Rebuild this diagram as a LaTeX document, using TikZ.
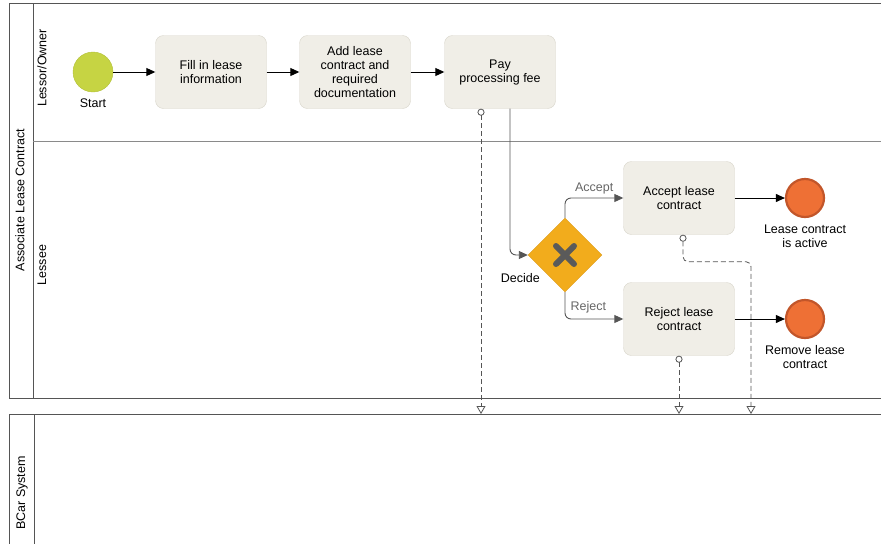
\documentclass[tikz,border=0pt]{standalone}
\usepackage{fontspec}
\setmainfont{Liberation Sans}
\usetikzlibrary{arrows.meta,shapes.geometric,positioning}
\definecolor{taskfill}{HTML}{F0EEE7}
\definecolor{taskline}{HTML}{D8D5CA}
\definecolor{startfill}{HTML}{C6D443}
\definecolor{startline}{HTML}{B2C03A}
\definecolor{endfill}{HTML}{EE7035}
\definecolor{endline}{HTML}{C2562A}
\definecolor{gatefill}{HTML}{F2AC1C}
\definecolor{gatemark}{HTML}{5A5A5A}
\definecolor{poolline}{HTML}{555555}
\definecolor{laneline}{HTML}{8A8A8A}
\definecolor{flowgray}{HTML}{555555}
\definecolor{labgray}{HTML}{666666}
\newcommand\bpmnfont{\fontsize{12.5}{14}\selectfont}

\begin{document}
\begin{tikzpicture}[
  x=1pt, y=-1pt,
  task/.style={rectangle, rounded corners=8pt, draw=taskline, fill=taskfill, minimum width=111pt, minimum height=73pt, align=center, font=\bpmnfont},
  startev/.style={circle, draw=startline, fill=startfill, minimum size=40pt, inner sep=0pt},
  endev/.style={circle, draw=endline, line width=2.2pt, fill=endfill, minimum size=38pt, inner sep=0pt},
  gate/.style={diamond, draw=gatefill!90!black, fill=gatefill, minimum width=74pt, minimum height=74pt, inner sep=0pt},
  evlabel/.style={font=\bpmnfont, align=center, yshift=-3pt},
  flow/.style={-{Triangle[length=9pt,width=8pt]}, line width=0.9pt},
  gflow/.style={flow, draw=flowgray, rounded corners=6pt},
  msg/.style={dash pattern=on 5pt off 3pt, draw=flowgray, line width=0.8pt, {Circle[open,length=7pt,width=7pt]}-{Triangle[open,length=8pt,width=9pt]}, rounded corners=5pt},
  guard/.style={font=\bpmnfont, text=labgray},
  pool/.style={draw=poolline, line width=0.9pt},
  lane/.style={draw=laneline, line width=0.6pt}
]
\useasboundingbox (0,0) rectangle (881,544);

% --- Pool: Associate Lease Contract ---
\draw[pool] (881,3) -- (9,3) -- (9,398) -- (881,398);
\draw[pool] (33,3) -- (33,398);
\draw[lane] (33,141) -- (881,141);
\node[rotate=90, font=\bpmnfont] (poolA) at (20,200) {Associate Lease Contract};
\node[rotate=90, font=\bpmnfont] (laneO) at (42,68) {Lessor/Owner};
\node[rotate=90, font=\bpmnfont] (laneL) at (42,265) {Lessee};

% --- Pool: BCar System ---
\draw[pool] (881,414) -- (9,414) -- (9,544);
\draw[pool] (34,414) -- (34,544);
\node[rotate=90, font=\bpmnfont] (poolB) at (22,493) {BCar System};
\coordinate (bcar) at (34,414);
\coordinate (m2) at (751,414);

% --- Lessor/Owner ---
\node[startev, label={[evlabel]below:Start}] (start) at (93,72) {};
\node[task] (fill) at (211,72) {Fill in lease\\information};
\node[task] (add)  at (355,72) {Add lease\\contract and\\required\\documentation};
\node[task] (pay)  at (500,72) {Pay\\processing fee};

\draw[flow] (start) -- (fill);
\draw[flow] (fill) -- (add);
\draw[flow] (add) -- (pay);

% --- Lessee ---
\node[gate, label={[font=\bpmnfont, anchor=north east, xshift=-3pt, yshift=4pt]south west:Decide}] (gw) at (565,255) {};
\draw[gatemark, line width=6pt, line cap=round] (556,246) -- (574,264) (556,264) -- (574,246);

\node[task] (acc) at (679,198) {Accept lease\\contract};
\node[task] (rej) at (679,319) {Reject lease\\contract};
\node[endev, label={[evlabel]below:Lease contract\\is active}] (endA) at (805,198) {};
\node[endev, label={[evlabel]below:Remove lease\\contract}] (endR) at (805,319) {};

\draw[gflow] ([xshift=10pt]pay.south) |- (gw.west);
\draw[gflow] (gw.north) |- node[guard, pos=0.75, above] {Accept} (acc.west);
\draw[gflow] (gw.south) |- node[guard, pos=0.7, above, yshift=2pt] {Reject} (rej.west);
\draw[flow] (acc) -- (endA);
\draw[flow] (rej) -- (endR);

% Mensajes
\draw[msg] ([xshift=-19pt]pay.south) -- ([xshift=-19pt]pay.south |- bcar);
\draw[msg] ([xshift=4pt]acc.south) -- ++(0,27) -| (m2);
\draw[msg] (rej.south) -- (rej.south |- bcar);
\end{tikzpicture}
\end{document}
